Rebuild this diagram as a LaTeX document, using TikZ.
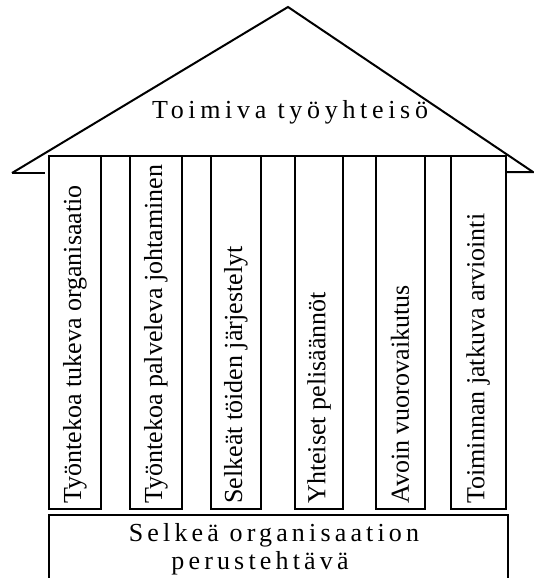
\documentclass[tikz,border=0pt]{standalone}
\usepackage{fontspec}
\setmainfont{Liberation Serif}
\newfontfamily\widefont[LetterSpace=16]{Liberation Serif}
\newfontfamily\roofont[LetterSpace=18]{Liberation Serif}

\begin{document}
\begin{tikzpicture}[x=0.5pt,y=-0.5pt]
  \tikzset{pillar/.style={draw,line width=0.9pt},
    roof/.style={line width=1pt},
    pillartext/.style={rotate=90,anchor=west,inner sep=0pt,font=\fontsize{13}{15}\selectfont}}
  \useasboundingbox (0,0) rectangle (534,578);
  % katto
  \draw[roof] (12,173) -- (45,173);
  \draw[roof] (12,173) -- (288,7) -- (533,172) -- (506,172);
  \node[font=\roofont\fontsize{13}{15}\selectfont] (katto) at (290,112) {Toimiva työyhteisö};
  % pilarit
  \draw[pillar] (49,156) -- (506,156);
  \draw[pillar] (49,156) rectangle (101,509);
  \draw[pillar] (130,156) rectangle (182,509);
  \draw[pillar] (211,156) rectangle (261,509);
  \draw[pillar] (295,156) rectangle (343,509);
  \draw[pillar] (376,156) rectangle (425,509);
  \draw[pillar] (451,156) rectangle (506,509);
  \node[pillartext] (p1) at (75,504) {Työntekoa tukeva organisaatio};
  \node[pillartext] (p2) at (156,504) {Työntekoa palveleva johtaminen};
  \node[pillartext] (p3) at (236,504) {Selkeät töiden järjestelyt};
  \node[pillartext] (p4) at (319,504) {Yhteiset pelisäännöt};
  \node[pillartext] (p5) at (400,504) {Avoin vuorovaikutus};
  \node[pillartext] (p6) at (478,504) {Toiminnan jatkuva arviointi};
  % perusta
  \draw[pillar] (49,515) rectangle (508,590);
  \node[align=center,font=\widefont\fontsize{13}{14}\selectfont] (perusta) at (274,549)
    {Selkeä organisaation\\ perustehtävä\hspace*{14pt}};
\end{tikzpicture}
\end{document}
